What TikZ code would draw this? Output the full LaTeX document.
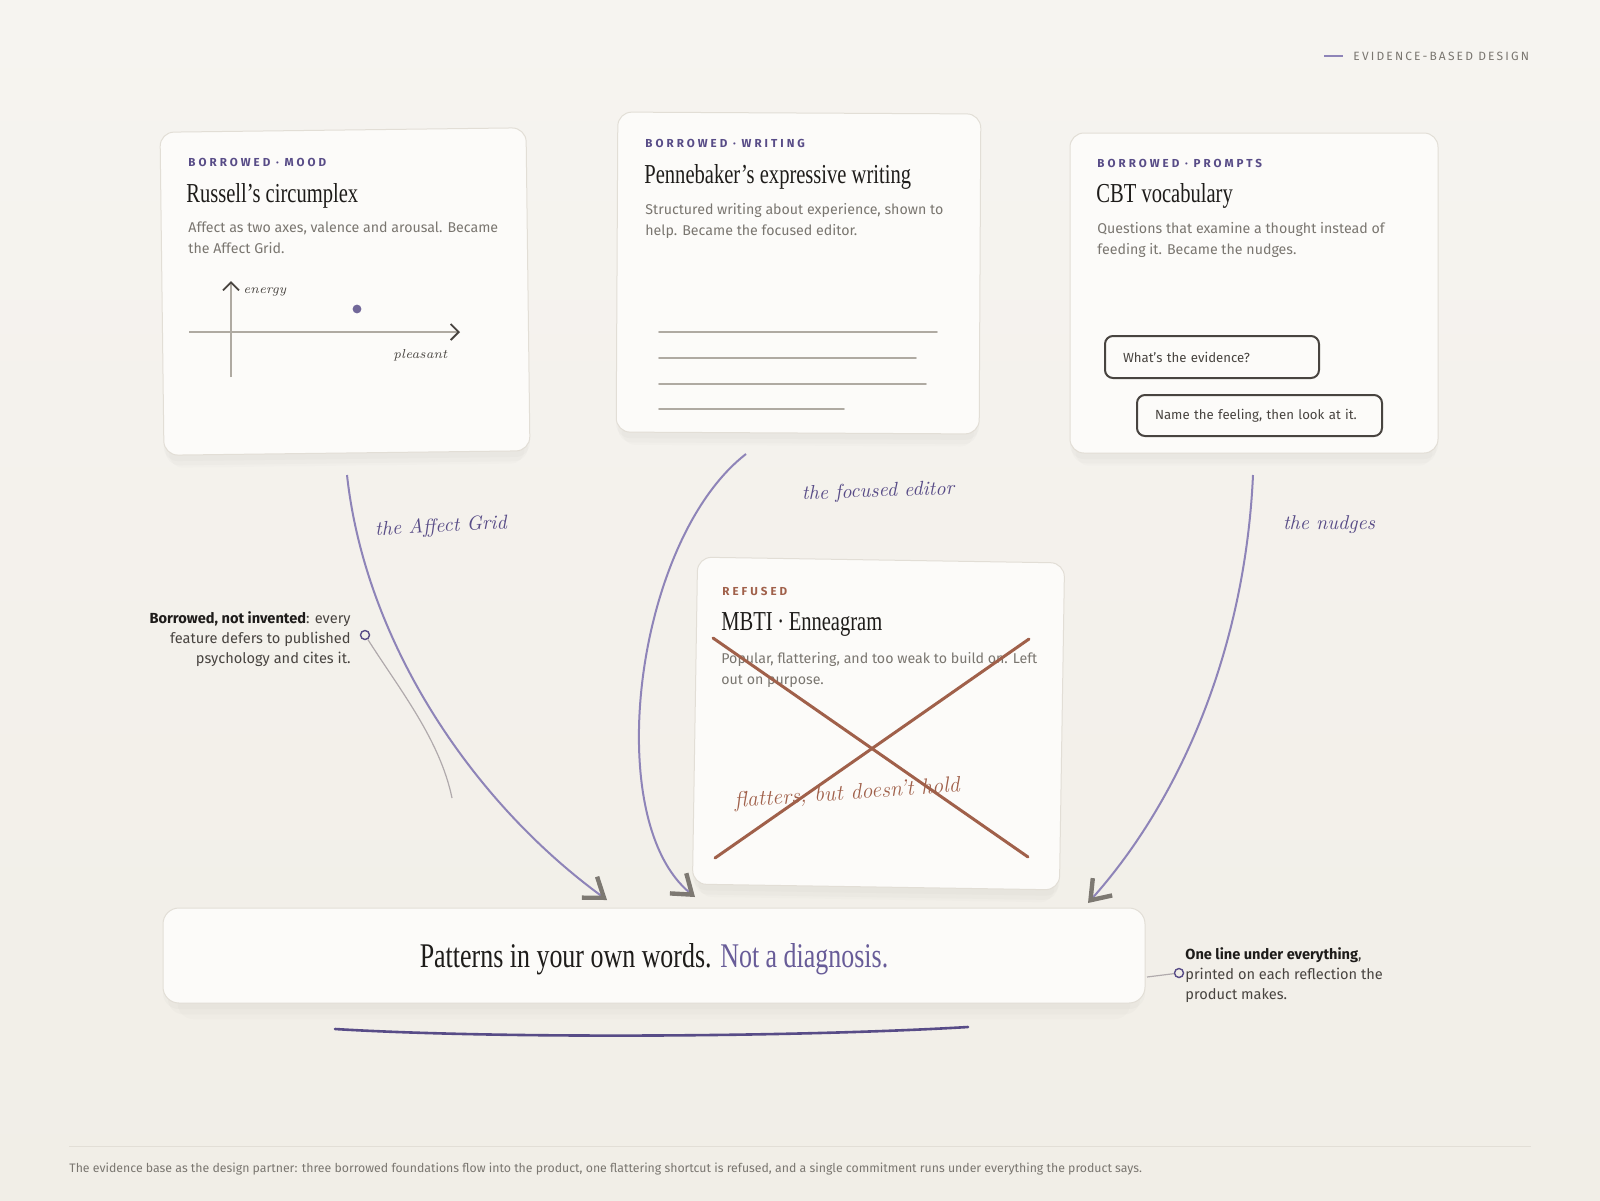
\documentclass[tikz,border=0pt]{standalone}
\usepackage{fontspec}
\usetikzlibrary{arrows.meta,shadows,positioning}
\newfontfamily\uifont{Fira Sans}
\newfontfamily\capsfont[LetterSpace=18]{Fira Sans}
\newfontfamily\kickfont[LetterSpace=26]{Fira Sans}
\newfontfamily\headfont[FakeStretch=0.75]{Liberation Serif}

\definecolor{paper}{RGB}{241,238,231}
\definecolor{paperhi}{RGB}{246,244,240}
\definecolor{cardfill}{RGB}{252,251,249}
\definecolor{cardline}{RGB}{226,222,214}
\definecolor{ink}{RGB}{30,28,26}
\definecolor{muted}{RGB}{122,118,112}
\definecolor{notegray}{RGB}{72,68,64}
\definecolor{plum}{RGB}{88,76,135}
\definecolor{plumsoft}{RGB}{104,92,152}
\definecolor{lilac}{RGB}{142,132,184}
\definecolor{tipgray}{RGB}{125,121,114}
\definecolor{rust}{RGB}{160,96,74}
\definecolor{pencil}{RGB}{175,170,162}
\definecolor{leader}{RGB}{176,170,172}

\tikzset{
	card/.style={draw=cardline, line width=0.5pt, fill=cardfill, rounded corners=7pt, inner sep=0pt,
		drop shadow={shadow xshift=0pt, shadow yshift=-9pt, shadow scale=0.97, opacity=0.025},
		drop shadow={shadow xshift=0pt, shadow yshift=-6pt, shadow scale=0.99, opacity=0.03},
		drop shadow={shadow xshift=0pt, shadow yshift=-3pt, opacity=0.035}},
	kicker/.style={anchor=base west, inner sep=0pt, text=plum, font=\kickfont\bfseries\fontsize{5.8}{7}\selectfont},
	headline/.style={anchor=base west, inner sep=0pt, text=ink, font=\headfont\fontsize{13.7}{16}\selectfont},
	blurb/.style={anchor=north west, inner sep=0pt, align=left, text=muted, font=\uifont\fontsize{7.1}{10.5}\selectfont},
	hand/.style={inner sep=0pt, text=plum, font=\itshape\fontsize{10}{12}\selectfont},
	sketchnote/.style={anchor=base west, inner sep=0pt, text=notegray, font=\itshape\fontsize{6.5}{8}\selectfont},
	axis/.style={draw=pencil, line width=0.8pt, -{Straight Barb[length=4pt, width=8pt, line width=0.9pt, color=notegray]}},
	pencilline/.style={draw=pencil, line width=0.9pt, line cap=round},
	bubble/.style={draw=notegray, line width=1pt, rounded corners=4pt, fill=cardfill, inner xsep=9pt, inner ysep=0pt,
		align=left, text=notegray, font=\uifont\fontsize{6.6}{8}\selectfont},
	strike/.style={draw=rust, line width=1.5pt, line cap=round},
	flow/.style={draw=lilac, line width=1pt, -{Straight Barb[length=9pt, width=13pt, line width=2.2pt, color=tipgray]}},
	note/.style={inner sep=0pt, align=right, text=notegray, font=\uifont\fontsize{7.3}{10}\selectfont},
	ring/.style={draw=plum, line width=0.7pt, fill=paper, circle, inner sep=0pt, minimum size=4.5pt},
}

\begin{document}
\begin{tikzpicture}[x=0.5pt,y=-0.5pt]
	\shade[top color=paperhi, bottom color=paper] (0,0) rectangle (1600,1200);
	\useasboundingbox (0,0) rectangle (1600,1200);

	% header mark
	\coordinate (markl) at (1324,56);
	\coordinate (markr) at (1343,56);
	\draw[lilac, line width=1pt] (markl) -- (markr);
	\node[anchor=west, inner sep=0pt, text=muted, font=\capsfont\fontsize{6}{7}\selectfont] (tag) at (1353,56) {EVIDENCE-BASED DESIGN};

	% cards
	\node[card, minimum width=183pt, minimum height=161.5pt, rotate=0.7] (russell) at (345,291.5) {};
	\node[card, minimum width=181.5pt, minimum height=160pt, rotate=-0.3] (pennebaker) at (798.5,273) {};
	\node[card, minimum width=184pt, minimum height=160pt] (cbt) at (1254,293) {};
	\node[card, minimum width=183.5pt, minimum height=163.5pt, rotate=-0.9] (mbti) at (878.5,723.5) {};
	\node[card, rounded corners=8pt, minimum width=491pt, minimum height=47.5pt] (motto) at (654,955.5) {};

	% Russell
	\node[kicker] (mood) at (188,166) {BORROWED · MOOD};
	\node[headline] (russellt) at (186,202) {Russell’s circumplex};
	\node[blurb] (russellb) at (188,221) {Affect as two axes, valence and arousal. Became\\the Affect Grid.};
	\draw[axis] (231,377) -- (231,281);
	\draw[axis] (189,332) -- (460,332);
	\fill[plum!85] (357,309) circle (2.2pt);
	\node[sketchnote] (energy) at (243,293) {energy};
	\node[sketchnote] (pleasant) at (393,358) {pleasant};

	% Pennebaker
	\node[kicker] (writing) at (645,147) {BORROWED · WRITING};
	\node[headline] (pennebakert) at (644,183) {Pennebaker’s expressive writing};
	\node[blurb] (pennebakerb) at (645,203) {Structured writing about experience, shown to\\help. Became the focused editor.};
	\foreach \y/\x in {332/937, 358/916, 384/926, 409/844}
		\draw[pencilline] (659,\y) -- (\x,\y);

	% CBT
	\node[kicker] (prompts) at (1097,167) {BORROWED · PROMPTS};
	\node[headline] (cbtt) at (1096,202) {CBT vocabulary};
	\node[blurb] (cbtb) at (1097,222) {Questions that examine a thought instead of\\feeding it. Became the nudges.};
	\node[bubble, text width=89pt, minimum height=21pt] (evidence) at (1212,357) {What’s the evidence?};
	\node[bubble, text width=104.5pt, minimum height=20.5pt] (feeling) at (1259.5,415.5) {Name the feeling, then look at it.};

	% MBTI, refused
	\node[kicker, text=rust] (refused) at (722,595) {REFUSED};
	\node[headline] (mbtit) at (721,630) {MBTI\,·\,Enneagram};
	\node[blurb] (mbtib) at (721,652) {Popular, flattering, and too weak to build on. Left\\out on purpose.};
	\draw[strike] (713,638) -- (1028,857);
	\draw[strike] (715,858) -- (1029,639);
	\node[hand, text=rust, rotate=4, font=\itshape\fontsize{11}{13}\selectfont] (flatters) at (847,794) {flatters, but doesn’t hold};

	% the line under everything
	\node[anchor=base, inner sep=0pt, text=ink, font=\headfont\fontsize{17.3}{20}\selectfont] (mottot) at (654,967)
		{Patterns in your own words. \textcolor{plumsoft}{Not a diagnosis.}};
	\draw[plum, line width=1.3pt, line cap=round] (335,1029) .. controls (500,1039) and (800,1037) .. (968,1027);

	% flows into the product
	\coordinate (gridout) at (347,475);
	\coordinate (gridin) at (607,900);
	\coordinate (editorout) at (746,454);
	\coordinate (editorin) at (695,897);
	\coordinate (nudgeout) at (1253,475);
	\coordinate (nudgein) at (1088,903);
	\draw[flow] (gridout) .. controls (365,640) and (470,800) .. (gridin);
	\draw[flow] (editorout) .. controls (635,540) and (600,820) .. (editorin);
	\draw[flow] (nudgeout) .. controls (1245,650) and (1180,800) .. (nudgein);
	\node[hand, rotate=3] (affectgrid) at (441,527) {the Affect Grid};
	\node[hand, rotate=2] (focused) at (878,492) {the focused editor};
	\node[hand] (nudges) at (1329,525) {the nudges};

	% side notes
	\node[note, anchor=north east] (borrowed) at (351,611)
		{\textcolor{ink}{\bfseries Borrowed, not invented}: every\\feature defers to published\\psychology and cites it.};
	\node[ring] (ringl) at (365,635) {};
	\coordinate (leaderl) at (452,798);
	\draw[leader, line width=0.6pt] (ringl) .. controls (400,690) and (440,740) .. (leaderl);
	\node[note, anchor=north west, align=left] (oneline) at (1185,947)
		{\textcolor{ink}{\bfseries One line under everything},\\printed on each reflection the\\product makes.};
	\node[ring] (ringr) at (1179,973) {};
	\coordinate (leaderr) at (1147,977);
	\draw[leader, line width=0.6pt] (ringr) -- (leaderr);

	% footer
	\coordinate (rulel) at (69,1146);
	\coordinate (ruler) at (1531,1146);
	\draw[cardline, line width=0.5pt] (rulel) -- (ruler);
	\node[anchor=west, inner sep=0pt, text=muted, font=\uifont\fontsize{6.15}{7}\selectfont] (caption) at (69,1169)
		{The evidence base as the design partner: three borrowed foundations flow into the product, one flattering shortcut is refused, and a single commitment runs under everything the product says.};
\end{tikzpicture}
\end{document}
